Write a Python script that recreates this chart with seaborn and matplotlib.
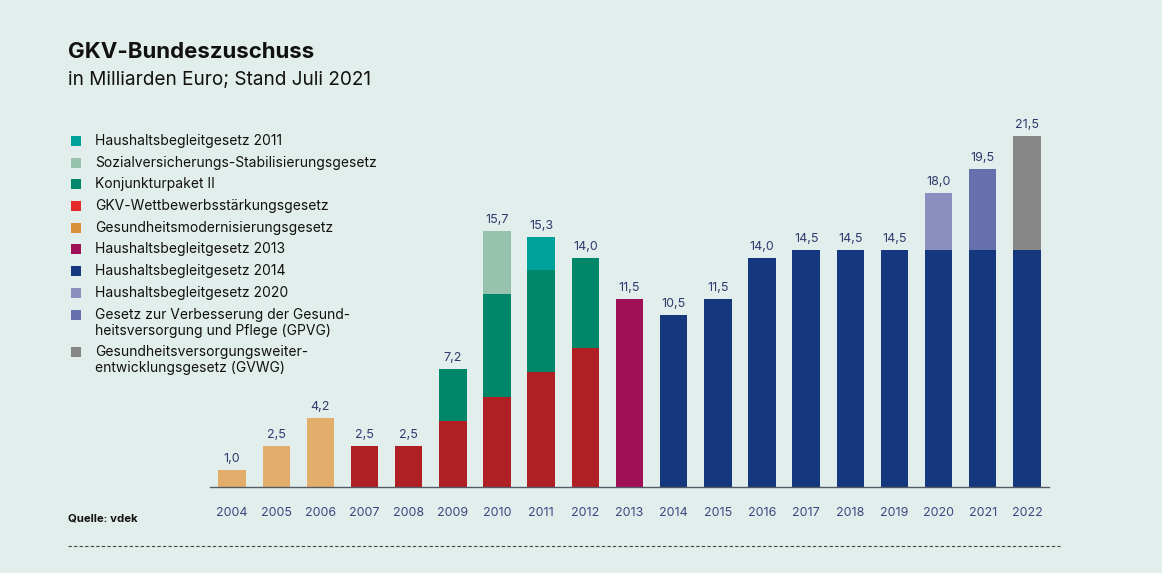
import pandas as pd
import matplotlib.pyplot as plt
import seaborn as sns
from matplotlib.patches import Rectangle
from matplotlib.lines import Line2D

# Daten (Mrd. Euro), Schichten von unten nach oben
jahre = [str(j) for j in range(2004, 2023)]
gesetze = [
    "Haushaltsbegleitgesetz 2011",
    "Sozialversicherungs-Stabilisierungsgesetz",
    "Konjunkturpaket II",
    "GKV-Wettbewerbsstärkungsgesetz",
    "Gesundheitsmodernisierungsgesetz",
    "Haushaltsbegleitgesetz 2013",
    "Haushaltsbegleitgesetz 2014",
    "Haushaltsbegleitgesetz 2020",
    "Gesetz zur Verbesserung der Gesund-\nheitsversorgung und Pflege (GPVG)",
    "Gesundheitsversorgungsweiter-\nentwicklungsgesetz (GVWG)",
]
farben_balken = ["#00a19a", "#97c2ae", "#00876a", "#b01f24", "#e3ae6b",
                 "#a01057", "#14377d", "#8a8fc0", "#6670ad", "#878787"]
farben_legende = ["#00a19a", "#97c2ae", "#00876a", "#e52a2a", "#d9903a",
                  "#a01057", "#14377d", "#8a8fc0", "#6670ad", "#878787"]

schicht_jahr = ["2004", "2005", "2006", "2007", "2008",
                "2009", "2009", "2010", "2010", "2010",
                "2011", "2011", "2011", "2012", "2012", "2013",
                "2014", "2015", "2016", "2017", "2018", "2019",
                "2020", "2020", "2021", "2021", "2022", "2022"]
schicht_gesetz = [4, 4, 4, 3, 3,
                  3, 2, 3, 2, 1,
                  3, 2, 0, 3, 2, 5,
                  6, 6, 6, 6, 6, 6,
                  6, 7, 6, 8, 6, 9]
schicht_wert = [1.0, 2.5, 4.2, 2.5, 2.5,
                4.0, 3.2, 5.5, 6.3, 3.9,
                7.0, 6.3, 2.0, 8.5, 5.5, 11.5,
                10.5, 11.5, 14.0, 14.5, 14.5, 14.5,
                14.5, 3.5, 14.5, 5.0, 14.5, 7.0]

df = pd.DataFrame({"Jahr": schicht_jahr,
                   "Gesetz": [gesetze[i] for i in schicht_gesetz],
                   "Wert": schicht_wert})
df["Ebene"] = df.groupby("Jahr").cumcount()
df["Oben"] = df.groupby("Jahr")["Wert"].cumsum()
summen = df.groupby("Jahr")["Wert"].sum().reindex(jahre)

bg = "#e2eeeb"
W, H = 1162, 573
sns.set_style("white")
plt.rcParams["font.family"] = ["Inter", "DejaVu Sans"]

fig = plt.figure(figsize=(W / 100, H / 100), dpi=100, facecolor=bg)
ax = fig.add_axes([210 / W, 1 - 486.5 / H, 839 / W, 358.6 / H])
ax.set_facecolor(bg)

palette = dict(zip(gesetze, farben_balken))
# oberste Schichten zuerst, darüber die unteren (kumuliert)
for ebene in sorted(df["Ebene"].unique(), reverse=True):
    teil = df[df["Ebene"] == ebene]
    sns.barplot(data=teil, x="Jahr", y="Oben", hue="Gesetz", order=jahre,
                palette=palette, dodge=False, width=0.62, errorbar=None,
                saturation=1, linewidth=0, legend=False, ax=ax)

ax.set_xlim(-0.5, len(jahre) - 0.5)
ax.set_ylim(0, 22)
for s in ["top", "right", "left"]:
    ax.spines[s].set_visible(False)
ax.spines["bottom"].set_color("#555a66")
ax.spines["bottom"].set_linewidth(1.0)
ax.set_yticks([])
ax.set_xlabel("")
ax.set_ylabel("")
ax.tick_params(axis="x", which="major", length=0, pad=15, labelsize=9,
               labelcolor="#3b4780")
ax.set_xticks([i + 0.5 for i in range(-1, len(jahre))], minor=True)
ax.tick_params(axis="x", which="minor", length=6, width=1, color="#555a66",
               direction="out")

for i, j in enumerate(jahre):
    ax.annotate(f"{summen[j]:.1f}".replace(".", ","), (i, summen[j]),
                xytext=(0, 3.5), textcoords="offset points", ha="center",
                va="bottom", fontsize=9, color="#2e3a6e")

fig.text(68 / W, 1 - 52 / H, "GKV-Bundeszuschuss", fontsize=16,
         fontweight="bold", color="#111111", va="center")
fig.text(68 / W, 1 - 80 / H, "in Milliarden Euro; Stand Juli 2021",
         fontsize=13.7, color="#111111", va="center")

# Legende von Hand: Quadrat an der ersten Zeile, Folgezeilen darunter
y = 141
for name, farbe in zip(gesetze, farben_legende):
    fig.add_artist(Rectangle((71 / W, 1 - (y + 5) / H), 10 / W, 10 / H,
                             facecolor=farbe, edgecolor="none",
                             transform=fig.transFigure))
    zeilen = name.split("\n")
    for k, zeile in enumerate(zeilen):
        fig.text(95 / W, 1 - (y + 16 * k) / H, zeile, fontsize=10,
                 color="#111111", va="center")
    y += 21.7 + 16 * (len(zeilen) - 1)

fig.text(68 / W, 1 - 518 / H, "Quelle: vdek", fontsize=8.2,
         fontweight="bold", color="#111111", va="center")
fig.add_artist(Line2D([68 / W, 1060 / W], [1 - 546 / H] * 2,
                      color="#444444", linewidth=0.8, linestyle=(0, (3, 2))))

fig.savefig("out.png", dpi=100, facecolor=bg)
